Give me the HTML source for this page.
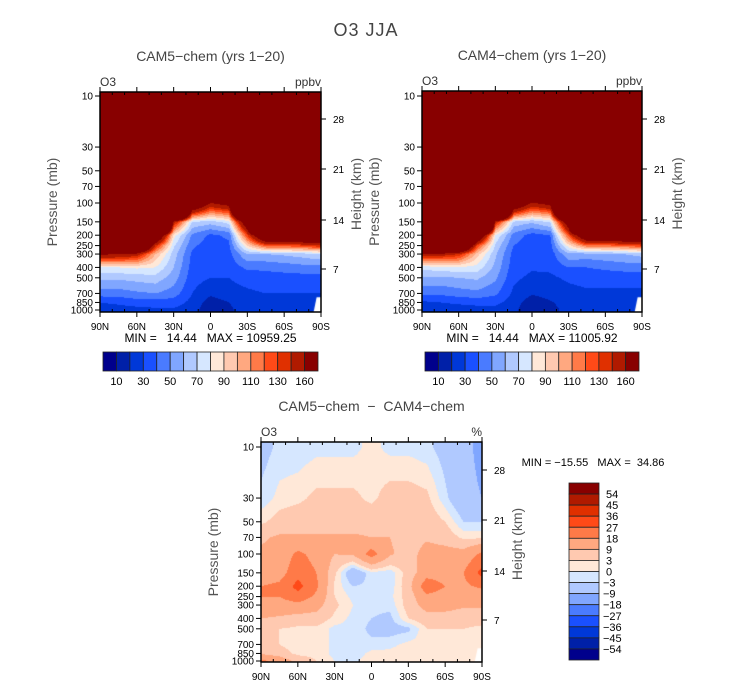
<!DOCTYPE html>
<html><head><meta charset="utf-8">
<style>
html,body{margin:0;padding:0;background:#fff;}
#wrap{position:relative;width:733px;height:686px;overflow:hidden;font-family:"Liberation Sans",sans-serif;}
canvas{position:absolute;}
svg{position:absolute;left:0;top:0;}
svg text{white-space:pre;}
</style></head>
<body>
<div id="wrap">
<canvas id="c1"></canvas>
<canvas id="c2"></canvas>
<canvas id="c3"></canvas>
<svg id="ov" width="733" height="686"></svg>
</div>
<script>
// ---- data ----
const lats = [90,75,60,45,30,15,0,-15,-30,-45,-60,-75,-90];
const levels = [10,30,50,70,100,150,200,250,300,400,500,700,850,1000];
const pTicks = [10,30,50,70,100,150,200,250,300,400,500,700,850,1000];
const latTickLabels = ["90N","60N","30N","0","30S","60S","90S"];
const latTickValues = [90,60,30,0,-30,-60,-90];
const heightTicks = [7,14,21,28];
const absBounds = [10,20,30,40,50,60,70,80,90,100,110,120,130,140,160];
const absLabels = ["10","30","50","70","90","110","130","160"];
const diffBounds = [-54,-45,-36,-27,-18,-9,-3,0,3,9,18,27,36,45,54];
const diffLabels = ["54","45","36","27","18","9","3","0","\u22123","\u22129","\u221218","\u221227","\u221236","\u221245","\u221254"];
const colors = ["#00008c","#0020a8","#0038d8","#1a50ff","#4a7bff","#80a6ff","#b0c9ff","#d6e7ff","#ffe8d8","#ffc9b0","#ffa880","#ff7a48","#ff4a18","#e03000","#b01a00","#880000"];

const cam5 = [
[5000,5000,5000,5000,5000,5000,5000,5000,5000,5000,5000,5000,5000],
[5000,5000,5000,5000,5000,5000,5000,5000,5000,5000,5000,5000,5000],
[3000,3000,3000,3000,3000,3000,3000,3000,3000,3000,3000,3000,3000],
[2000,2000,2000,2000,2000,1000,500,600,2000,2000,2000,2000,2000],
[1500,1500,1500,1500,800,220,160,175,600,1500,1500,1500,1500],
[900,900,900,800,150,70,65,75,200,900,900,800,700],
[600,600,550,230,85,48,38,42,130,220,220,230,240],
[400,380,300,140,72,42,35,38,90,125,125,130,140],
[165,160,150,100,65,38,34,36,60,60,62,65,70],
[78,80,82,80,60,36,33,34,42,42,44,46,46],
[62,62,64,66,55,34,30,30,34,36,36,36,36],
[45,45,48,50,45,30,22,26,28,30,30,30,30],
[30,32,35,35,35,27,15,20,26,27,27,27,27],
[24,25,26,28,28,25,12,18,25,25,25,25,25]];
const cam4 = [
[5000,5000,5000,5000,5000,5000,5000,5000,5000,5000,5000,5000,5000],
[5000,5000,5000,5000,5000,5000,5000,5000,5000,5000,5000,5000,5000],
[3000,3000,3000,3000,3000,3000,3000,3000,3000,3000,3000,3000,3000],
[2000,2000,2000,2000,2000,1000,500,600,2000,2000,2000,2000,2000],
[1500,1500,1500,1500,800,210,158,172,580,1500,1500,1500,1500],
[900,900,900,800,145,68,62,72,190,900,900,800,700],
[600,600,540,220,80,46,36,40,125,210,210,220,230],
[380,360,280,130,68,40,33,36,86,118,118,122,130],
[150,150,140,95,62,36,32,34,58,56,58,60,64],
[74,76,78,76,57,34,31,32,40,40,42,44,44],
[58,58,60,62,52,32,28,28,32,34,34,34,34],
[42,42,45,47,42,28,21,24,26,28,28,28,28],
[28,30,32,33,33,25,14,19,24,25,25,25,25],
[22,23,24,26,26,23,11,17,23,23,23,23,23]];
const diff = [
[-5,-2,-2,-1,-1,-1,1,-1,-1,-2,-5,-8,-10],
[-2,1,2,4,4,4,2,5,5,4,-2,-8,-9],
[2,5,6,6,6,6,6,7,6,6,3,-3,-3],
[8,10,10,10,10,10,9,9,6,8,6,2,2],
[10,12,20,15,9,10,22,10,6,12,12,12,20],
[12,14,24,18,4,-8,-1,-2,5,14,14,18,30],
[18,20,30,20,2,-3,-2,-2,6,24,18,16,20],
[18,18,24,16,3,-1,-2,-1,5,16,14,12,12],
[14,14,15,12,4,0,-2,-2,5,12,12,10,10],
[9,8,6,6,2,-1,-3,-4,3,6,6,5,5],
[4,3,2,2,-1,-1,-4,-5,-4,3,3,3,2],
[5,3,1,2,-1,-2,-2,-1,1,1,1,1,1],
[8,5,2,2,-1,-2,1,1,2,1,1,1,1],
[20,15,6,3,0,-1,2,2,1,1,1,1,1]];

// ---- panels ----
const panels = [
 {id:"c1",L:100,R:321,T:92,B:312,y10:96,data:cam5,bounds:absBounds,name:"cam5"},
 {id:"c2",L:422,R:642,T:91,B:312,y10:96,data:cam4,bounds:absBounds,name:"cam4"},
 {id:"c3",L:261,R:482,T:442,B:662,y10:447,data:diff,bounds:diffBounds,name:"diff"}];
const DEC=107;
function xOf(P,lat){return P.L+(90-lat)/180*(P.R-P.L);}
function yOf(P,p){return P.y10+(Math.log10(p)-1)*DEC;}
function latOf(P,x){return 90-(x-P.L)/(P.R-P.L)*180;}
function pOf(P,y){return Math.pow(10,1+(y-P.y10)/DEC);}
function hex(c){return [parseInt(c.substr(1,2),16),parseInt(c.substr(3,2),16),parseInt(c.substr(5,2),16)];}
const rgb=colors.map(hex);
function interp(P,lat,p){
  let lp=Math.log10(Math.min(Math.max(p,levels[0]),levels[levels.length-1]));
  let j=0; while(j<levels.length-2 && Math.log10(levels[j+1])<lp) j++;
  let a=Math.log10(levels[j]),b=Math.log10(levels[j+1]); let fy=(lp-a)/(b-a); fy=Math.max(0,Math.min(1,fy));
  let la=Math.max(-90,Math.min(90,lat));
  let i=0; while(i<lats.length-2 && lats[i+1]>la) i++;
  let fx=(lats[i]-la)/(lats[i]-lats[i+1]); fx=Math.max(0,Math.min(1,fx));
  const D=P.data;
  const v00=D[j][i],v01=D[j][i+1],v10=D[j+1][i],v11=D[j+1][i+1];
  return (v00*(1-fx)+v01*fx)*(1-fy)+(v10*(1-fx)+v11*fx)*fy;
}
panels.forEach(P=>{
  const c=document.getElementById(P.id);
  const w=P.R-P.L,h=P.B-P.T; c.width=w;c.height=h;
  c.style.left=P.L+"px";c.style.top=P.T+"px";
  const ctx=c.getContext("2d"); const im=ctx.createImageData(w,h);
  for(let y=0;y<h;y++)for(let x=0;x<w;x++){
    const v=interp(P,latOf(P,P.L+x+0.5),pOf(P,P.T+y+0.5));
    let k=0; while(k<P.bounds.length && v>=P.bounds[k]) k++;
    const o=(y*w+x)*4; im.data[o]=rgb[k][0];im.data[o+1]=rgb[k][1];im.data[o+2]=rgb[k][2];im.data[o+3]=255;
  }
  ctx.putImageData(im,0,0);
  ctx.fillStyle="#fff"; ctx.beginPath();
  const xm=xOf(P,-84)-P.L, xe=w;
  ctx.moveTo(xe,yOf(P,760)-P.T);ctx.lineTo(xm+3,yOf(P,760)-P.T);ctx.lineTo(xm,h);ctx.lineTo(xe,h);ctx.fill();
});

// ---- SVG overlay ----
const ov=document.getElementById("ov");
const NS="http://www.w3.org/2000/svg";
function mk(tag,attrs,parent){const e=document.createElementNS(NS,tag);for(const k in attrs)e.setAttribute(k,attrs[k]);(parent||ov).appendChild(e);return e;}
function txt(s,x,y,size,anchor,fill,name,extra){const t=mk("text",Object.assign({x:x,y:y,"font-size":size,"text-anchor":anchor||"middle",fill:fill||"#000","font-family":"Liberation Sans, sans-serif"},extra||{}));t.textContent=s;


return t;}
function ln(x1,y1,x2,y2,name){const l=mk("line",{x1:x1,y1:y1,x2:x2,y2:y2,stroke:"#000","stroke-width":1});


return l;}

txt("O3 JJA",366,36,18,"middle","#444","figure-title",{"letter-spacing":"1"});
const titles=["CAM5\u2212chem (yrs 1\u221220)","CAM4\u2212chem (yrs 1\u221220)","CAM5\u2212chem  \u2212  CAM4\u2212chem"];
const units=["ppbv","ppbv","%"];
const minmax=["MIN =   14.44   MAX = 10959.25","MIN =   14.44   MAX = 11005.92"];
const hPos=[[28,119],[21,169],[14,220],[7,269]];
panels.forEach((P,n)=>{
  const cx=(P.L+P.R)/2;
  txt(titles[n],cx,P.T-31,14,"middle","#444",P.name+"-title");
  txt("O3",P.L,P.T-6,12,"start","#333",P.name+"-variable-label");
  txt(units[n],P.R,P.T-6,12,"end","#333",P.name+"-units-label");
  const r=mk("rect",{x:P.L,y:P.T,width:P.R-P.L,height:P.B-P.T,fill:"none",stroke:"#000","stroke-width":1.5});
  
  
  for(let lat=90;lat>=-90;lat-=10){
    const x=xOf(P,lat); const major=(lat%30===0);
    if(major){ln(x,P.B,x,P.B+5,P.name+"-x-tick");ln(x,P.T,x,P.T-5,P.name+"-top-tick");}
    else{ln(x,P.B,x,P.B-3,P.name+"-x-minor-tick");ln(x,P.T,x,P.T+3,P.name+"-top-minor-tick");}
  }
  latTickValues.forEach((v,i)=>txt(latTickLabels[i],xOf(P,v),P.B+18,10,"middle","#000",P.name+"-x-tick-label"));
  pTicks.forEach(p=>{const y=yOf(P,p);ln(P.L-5,y,P.L,y,P.name+"-y-tick");txt(String(p),P.L-7,y+3.5,10,"end","#000",P.name+"-y-tick-label");});
  heightTicks.forEach((h,i)=>{const y=hPos[3-i][1]+(P.y10-96);ln(P.R,y,P.R+5,y,P.name+"-height-tick");txt(String(h),P.R+12,y+4,10,"start","#000",P.name+"-height-tick-label");});
  const ym=(P.T+P.B)/2;
  txt("Pressure (mb)",0,0,14,"middle","#555",P.name+"-y-axis-title",{transform:"translate("+(P.L-43)+","+ym+") rotate(-90)"});
  txt("Height (km)",0,0,14,"middle","#555",P.name+"-height-axis-title",{transform:"translate("+(P.R+40)+","+(ym-8)+") rotate(-90)"});
  if(n<2){
    txt(minmax[n],cx,P.B+30,12,"middle","#000",P.name+"-min-max");
    const bx0=P.L+3,bx1=P.R-3,by=352,bh=19,bw=(bx1-bx0)/16;
    for(let k=0;k<16;k++){const b=mk("rect",{x:bx0+k*bw,y:by,width:bw,height:bh,fill:colors[k],stroke:"#222","stroke-width":0.8});
      
      }
    absLabels.forEach((s,i)=>txt(s,bx0+(1+2*i)*bw,by+bh+14,11,"middle","#000",P.name+"-colorbar-label"));
  }
});
txt("MIN = \u221215.55   MAX =  34.86",593,466,11,"middle","#000","diff-min-max");
const vx=569,vy0=483,vy1=660,vh=(vy1-vy0)/16;
for(let k=0;k<16;k++){const b=mk("rect",{x:vx,y:vy0+k*vh,width:30,height:vh,fill:colors[15-k],stroke:"#222","stroke-width":0.8});
  
  }
diffLabels.forEach((s,i)=>txt(s,i>=8?603:606,vy0+(i+1)*vh+4,11,"start","#000","diff-colorbar-label"));
</script>
</body></html>
